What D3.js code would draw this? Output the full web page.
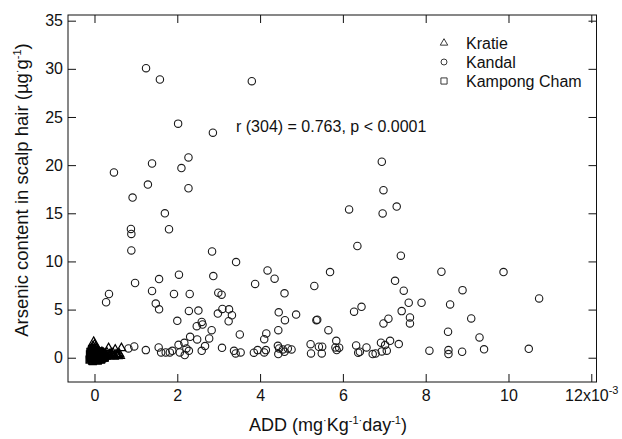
<!DOCTYPE html>
<html>
<head>
<meta charset="utf-8">
<script src="https://cdnjs.cloudflare.com/ajax/libs/d3/7.8.5/d3.min.js"></script>
<style>
  body { margin: 0; background: #fff; }
  text { font-family: "Liberation Sans", Arial, sans-serif; fill: #111; }
</style>
</head>
<body>
<div id="graph"></div>
<script>
// values: ADD in 10^-3 mg/kg/day, arsenic in ug/g

var kandalX = [1.245, 1.58, 3.80, 2.02, 2.86, 2.27, 1.39, 2.10, 0.47, 1.29, 2.27, 0.92,
  1.70, 0.88, 0.89, 1.80, 0.89, 2.84, 3.42, 4.18, 4.35, 5.69, 1.56, 2.04, 2.87, 0.98, 3.88, 5.31,
  1.39, 1.92, 2.30, 2.99, 3.07, 4.59, 0.35, 0.28, 1.48, 1.56, 2.28, 2.51, 3.09, 3.25, 4.45, 4.87,
  2.98, 3.32, 2.00, 3.24, 4.60, 5.36, 5.38, 2.59, 2.47, 2.61, 2.83, 4.44, 5.65, 3.51, 4.15, 2.31,
  4.10, 2.77, 2.48, 5.84, 2.17, 2.03, 2.67, 0.82, 0.96, 1.24, 1.55, 1.61, 1.72, 1.82, 1.88, 2.06,
  2.18, 2.28, 2.22, 2.59, 3.08, 3.37, 3.41, 3.53, 3.85, 3.94, 4.10, 4.14, 4.43, 4.46, 4.44, 4.55,
  4.59, 4.67, 4.76, 5.22, 5.23, 5.42, 5.49, 5.50, 5.82, 5.91, 5.85,
  6.94, 6.98, 6.15, 6.96, 7.30, 6.35, 7.40, 8.38, 9.88, 7.26, 7.47, 8.89, 10.74, 7.59, 7.90, 8.59,
  6.45, 6.27, 7.42, 7.10, 6.98, 7.62, 7.62, 9.10, 8.54, 9.30, 6.32, 6.37, 6.41, 6.57, 6.72, 6.79,
  6.92, 7.02, 6.94, 7.06, 7.14, 7.35, 8.09, 8.55, 8.55, 8.88, 9.41, 10.49];
var kandalY = [30.07, 28.89, 28.72, 24.31, 23.37, 20.8, 20.17, 19.69, 19.24, 17.98, 17.6, 16.63,
  15.0, 13.38, 12.86, 13.34, 11.14, 11.03, 9.93, 9.07, 8.21, 8.9, 8.17, 8.62, 8.48, 7.76, 7.66, 7.45,
  6.93, 6.62, 6.62, 6.76, 6.55, 6.69, 6.62, 5.76, 5.62, 5.03, 4.86, 4.90, 5.07, 5.03, 4.72, 4.48,
  4.59, 4.41, 3.83, 3.79, 3.90, 3.90, 3.95, 3.72, 3.28, 3.45, 2.86, 2.86, 2.86, 2.41, 2.52, 2.17,
  1.93, 2.00, 1.90, 1.76, 1.55, 1.34, 1.21, 0.97, 1.17, 0.79, 1.07, 0.55, 0.55, 0.55, 0.72, 0.55,
  0.28, 0.72, 0.97, 0.72, 1.03, 0.72, 0.45, 0.55, 0.52, 0.79, 0.55, 0.79, 1.24, 0.97, 0.38, 0.86,
  0.62, 0.97, 0.86, 1.41, 0.45, 1.14, 0.45, 1.14, 1.07, 1.04, 0.80,
  20.35, 17.4, 15.4, 14.98, 15.7, 11.6, 10.6, 8.93, 8.9, 7.99, 6.96, 7.02, 6.16, 5.71, 5.71, 5.54,
  5.29, 4.78, 4.84, 4.05, 3.56, 4.19, 3.56, 4.08, 2.70, 2.11, 1.28, 0.52, 0.62, 1.07, 0.38, 0.45,
  1.56, 1.31, 0.66, 0.73, 1.76, 1.42, 0.73, 0.80, 0.38, 0.62, 0.87, 0.93];

var kratieX = [-0.02, 0.02, -0.06, 0.05, 0.08, 0.1, 0.12, 0.15, 0.18, 0.2, 0.22, 0.25, 0.28, 0.3,
  0.34, 0.36, 0.38, 0.4, 0.42, 0.45, 0.48, 0.5, 0.52, 0.55, 0.58, 0.6, 0.65, 0.03, 0.07, 0.13,
  0.17, 0.24, 0.27, 0.36, 0.44, 0.47, 0.56, 0.62, 0.01, 0.09, -0.04, 0.0];
var kratieY = [1.65, 1.1, 0.8, 0.9, 0.6, 0.75, 0.5, 0.45, 0.6, 0.35, 0.5, 0.4, 0.3, 0.55,
  1.0, 0.35, 0.25, 0.45, 0.3, 0.5, 0.2, 0.85, 0.35, 0.3, 0.25, 0.4, 1.0, 0.3, 0.2, 0.25,
  0.15, 0.2, 0.1, 0.15, 0.2, 0.1, 0.15, 0.2, 0.05, 0.1, 1.2, 1.35];

var champX = [-0.12, -0.1, -0.08, -0.06, -0.05, -0.03, 0, 0.02, 0.04, 0.06, 0.08, 0.1, 0.12,
  0.14, 0.16, 0.18, 0.2, 0.22, 0.25, -0.11, -0.09, -0.07, -0.04, -0.01, 0.01, 0.03, 0.05, 0.07,
  0.09, 0.11, 0.13, 0.15, 0.17, 0.19, 0.21, 0.23, -0.1, -0.08, -0.05, -0.02, 0.0, 0.02, 0.04,
  0.06, 0.08, 0.1, 0.12, 0.14, 0.16, 0.18, -0.09, -0.06, -0.03, 0.01, 0.05, 0.09, 0.13, 0.17,
  -0.07, -0.02, 0.03, 0.08, 0.12];
var champY = [-0.2, 0.1, 0.4, -0.3, 0.7, 0.3, 0.0, 0.5, -0.25, 0.4, 0.15, 0.65, 0.25,
  0.1, -0.2, 0.45, 0.05, 0.3, 0.0, 0.35, -0.1, 0.55, -0.35, 0.85, 0.1, 0.35, 0.15, -0.15,
  0.3, 0.1, -0.1, 0.4, 0.2, -0.05, 0.15, 0.0, 0.6, 0.0, 0.2, 0.45, -0.2, 0.75, 0.05,
  0.6, -0.3, 0.35, 0.55, -0.15, 0.3, 0.1, 0.2, 0.9, 0.1, 0.25, 0.45, -0.2, 0.4, -0.1,
  0.75, -0.05, 0.6, 0.5, 0.0];

var xTicks = [0, 2, 4, 6, 8, 10, 12];
var yTicks = [0, 5, 10, 15, 20, 25, 30, 35];
var legendNames = ["Kratie", "Kandal", "Kampong Cham"];
var statText = "r (304) = 0.763, p < 0.0001";

var margin = { top: 15, right: 25.5, bottom: 57, left: 68 },
    width = 622 - margin.left - margin.right,
    height = 439 - margin.top - margin.bottom;

var svg = d3.select("#graph")
    .append("svg")
    .attr("width", width + margin.left + margin.right)
    .attr("height", height + margin.top + margin.bottom)
    .append("g")
    .attr("transform", "translate(" + margin.left + "," + margin.top + ")");

var x = d3.scaleLinear().domain([-0.64, 12.126]).range([0, width]);
var y = d3.scaleLinear().domain([-2.52, 35.59]).range([height, 0]);

function zip(xs, ys) {
    return xs.map(function(v, i) { return { x: v, y: ys[i] }; });
}

// axes, ticks pointing inward on all four sides
var xAxis = svg.append("g")
    .attr("transform", "translate(0," + height + ")")
    .call(d3.axisBottom(x).tickValues(xTicks).tickSize(-8).tickPadding(8)
        .tickFormat(function(d) { return d === 12 ? "12x10" : d; }));
svg.append("g")
    .call(d3.axisTop(x).tickValues(xTicks).tickSize(-8).tickFormat(""));
var yAxis = svg.append("g")
    .call(d3.axisLeft(y).tickValues(yTicks).tickSize(-8).tickPadding(5));
svg.append("g")
    .attr("transform", "translate(" + width + ",0)")
    .call(d3.axisRight(y).tickValues(yTicks).tickSize(-8).tickFormat(""));

svg.selectAll(".domain").remove();
svg.selectAll(".tick line").attr("stroke", "#111");
svg.selectAll(".tick text").style("font-size", "16px").attr("fill", "#111");

xAxis.selectAll(".tick text")
    .filter(function(d) { return d === 12; })
    .append("tspan")
    .attr("dy", "-7px")
    .style("font-size", "11px")
    .text("-3");

// frame
svg.append("rect")
    .attr("width", width)
    .attr("height", height)
    .attr("fill", "none")
    .attr("stroke", "#111")
    .attr("stroke-width", 1);

// points
svg.selectAll(".kandal")
    .data(zip(kandalX, kandalY))
    .enter().append("circle")
    .attr("cx", function(d) { return x(d.x); })
    .attr("cy", function(d) { return y(d.y); })
    .attr("r", 3.7)
    .attr("fill", "none")
    .attr("stroke", "#1a1a1a")
    .attr("stroke-width", 1.1);

// Kampong Cham + Kratie overlap into a dark blob near the origin
svg.selectAll(".champ")
    .data(zip(champX, champY))
    .enter().append("path")
    .attr("d", d3.symbol(d3.symbolSquare, 45))
    .attr("transform", function(d) { return "translate(" + x(d.x) + "," + y(d.y) + ")"; })
    .attr("fill", "none")
    .attr("stroke", "#000")
    .attr("stroke-width", 1.5);

svg.selectAll(".kratie")
    .data(zip(kratieX, kratieY))
    .enter().append("path")
    .attr("d", d3.symbol(d3.symbolTriangle, 32))
    .attr("transform", function(d) { return "translate(" + x(d.x) + "," + y(d.y) + ")"; })
    .attr("fill", "none")
    .attr("stroke", "#000")
    .attr("stroke-width", 1.2);

// legend
var legendSymbols = [d3.symbolTriangle, d3.symbolCircle, d3.symbolSquare];
var legendSizes = [24, 28, 38];
var legend = svg.append("g").attr("transform", "translate(376,28)");
legendNames.forEach(function(name, i) {
    legend.append("path")
        .attr("d", d3.symbol(legendSymbols[i], legendSizes[i]))
        .attr("transform", "translate(0," + (i * 19) + ")")
        .attr("fill", "none")
        .attr("stroke", "#222")
        .attr("stroke-width", 0.9);
    legend.append("text")
        .attr("x", 22)
        .attr("y", i * 19)
        .attr("dy", "0.36em")
        .style("font-size", "16px")
        .text(name);
});

// correlation note
svg.append("text")
    .attr("x", 168)
    .attr("y", 117)
    .style("font-size", "16px")
    .text(statText);

// X axis label
var xl = svg.append("text")
    .attr("transform", "translate(" + (328 - margin.left) + "," + (431 - margin.top) + ")")
    .style("text-anchor", "middle")
    .style("font-size", "18px");
xl.append("tspan").text("ADD (mg");
xl.append("tspan").attr("dy", "-7px").style("font-size", "11px").text("·");
xl.append("tspan").attr("dy", "7px").text("Kg");
xl.append("tspan").attr("dy", "-7px").style("font-size", "11px").text("-1·");
xl.append("tspan").attr("dy", "7px").text("day");
xl.append("tspan").attr("dy", "-7px").style("font-size", "11px").text("-1");
xl.append("tspan").attr("dy", "7px").text(")");

// Y axis label
var yl = svg.append("text")
    .attr("transform", "translate(" + (28 - margin.left) + "," + (190 - margin.top) + ") rotate(-90)")
    .style("text-anchor", "middle")
    .style("font-size", "18.5px");
yl.append("tspan").text("Arsenic content in scalp hair (µg");
yl.append("tspan").attr("dy", "-7px").style("font-size", "11px").text("·");
yl.append("tspan").attr("dy", "7px").text("g");
yl.append("tspan").attr("dy", "-7px").style("font-size", "11px").text("-1");
yl.append("tspan").attr("dy", "7px").text(")");
</script>
</body>
</html>
